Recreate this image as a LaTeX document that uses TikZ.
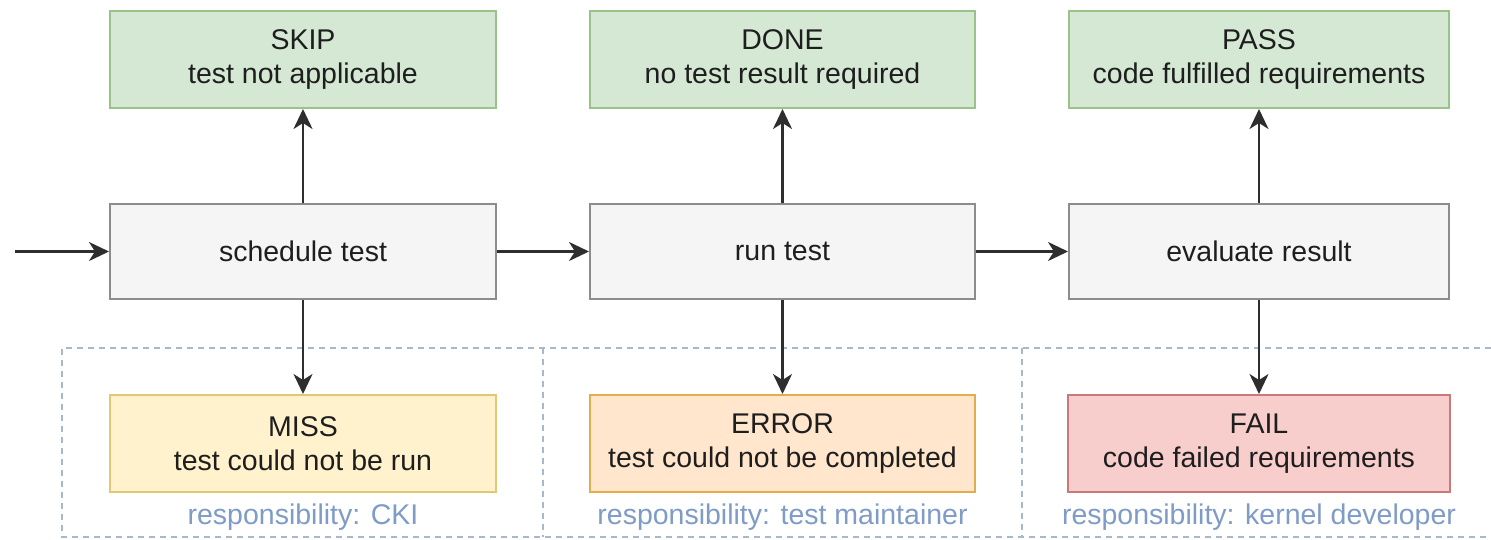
\documentclass[tikz,border=0pt]{standalone}
\usepackage{fontspec}
\setmainfont{Liberation Sans}
\usetikzlibrary{arrows.meta}
\definecolor{gfill}{HTML}{D5E8D4}\definecolor{gdraw}{HTML}{9AC28A}
\definecolor{pfill}{HTML}{F5F5F5}\definecolor{pdraw}{HTML}{8C8C8C}
\definecolor{yfill}{HTML}{FFF2CC}\definecolor{ydraw}{HTML}{E2C871}
\definecolor{ofill}{HTML}{FFE6CC}\definecolor{odraw}{HTML}{E0AE4A}
\definecolor{rfill}{HTML}{F8CECC}\definecolor{rdraw}{HTML}{C97A78}
\definecolor{zone}{HTML}{A8B8CC}
\definecolor{zonetext}{HTML}{7F9CC6}
\definecolor{txt}{HTML}{1E1E1E}
\definecolor{arr}{HTML}{2E2E2E}
\begin{document}
\begin{tikzpicture}[x=1pt,y=-1pt,
  box/.style={rectangle,line width=2pt,align=center,text=txt,inner sep=0pt,
    font=\fontsize{28.5}{34}\selectfont},
  res/.style={box,fill=gfill,draw=gdraw},
  proc/.style={box,fill=pfill,draw=pdraw},
  miss/.style={box,fill=yfill,draw=ydraw},
  err/.style={box,fill=ofill,draw=odraw},
  fail/.style={box,fill=rfill,draw=rdraw},
  zoneline/.style={draw=zone,line width=2pt,dash pattern=on 6pt off 5pt},
  zlabel/.style={text=zonetext,inner sep=0pt,font=\fontsize{28.5}{33}\selectfont},
  link/.style={draw=arr,line width=2.2pt,-{Stealth[length=20pt,width=19pt,inset=6pt]}}]
\useasboundingbox (0,0) rectangle (1491,539);
\fill[white] (0,0) rectangle (1491,539);
% zones
\draw[zoneline] (1491,348) -- (62,348) -- (62,537) -- (1491,537);
\draw[zoneline] (543,348) -- (543,537);
\draw[zoneline] (1022,348) -- (1022,537);
% top row
\node[res,minimum width=386pt,minimum height=97pt] (skip) at (303,59.5) {SKIP\\test not applicable};
\node[res,minimum width=385pt,minimum height=97pt] (done) at (782.5,59.5) {DONE\\no test result required};
\node[res,minimum width=380pt,minimum height=97pt] (pass) at (1259,59.5) {PASS\\code fulfilled requirements};
% middle row
\node[proc,minimum width=386pt,minimum height=95pt] (sched) at (303,251.5) {schedule test};
\node[proc,minimum width=385pt,minimum height=95pt] (run) at (782.5,251.5) {run test};
\node[proc,minimum width=380pt,minimum height=95pt] (eval) at (1259,251.5) {evaluate result};
% bottom row
\node[miss,minimum width=386pt,minimum height=97pt] (miss) at (303,443.5) {MISS\\test could not be run};
\node[err,minimum width=385pt,minimum height=97pt] (error) at (782.5,443.5) {ERROR\\test could not be completed};
\node[fail,minimum width=382pt,minimum height=97pt] (failn) at (1259,443.5) {FAIL\\code failed requirements};
% zone labels
\node[zlabel] (z1) at (303,517) {responsibility: CKI};
\node[zlabel] (z2) at (782.5,517) {responsibility: test maintainer};
\node[zlabel] (z3) at (1259,517) {responsibility: kernel developer};
% connectors
\coordinate (start) at (15,251.5);
\draw[link] (start) -- (sched.west);
\draw[link] (sched.east) -- (run.west);
\draw[link] (run.east) -- (eval.west);
\draw[link] (sched.north) -- (skip.south);
\draw[link] (run.north) -- (done.south);
\draw[link] (eval.north) -- (pass.south);
\draw[link] (sched.south) -- (miss.north);
\draw[link] (run.south) -- (error.north);
\draw[link] (eval.south) -- (failn.north);
\end{tikzpicture}
\end{document}
